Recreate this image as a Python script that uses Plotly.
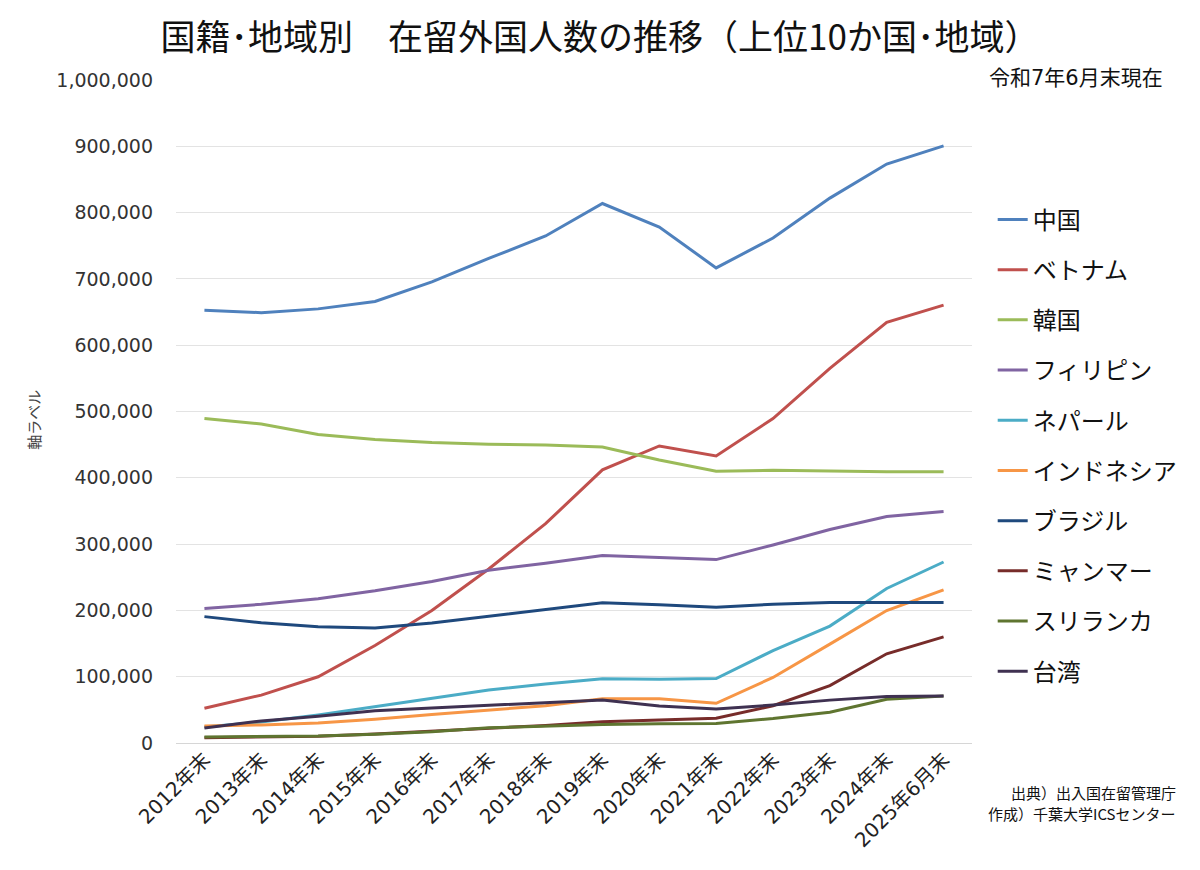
import plotly.graph_objects as go

categories = ["2012年末", "2013年末", "2014年末", "2015年末", "2016年末", "2017年末", "2018年末",
              "2019年末", "2020年末", "2021年末", "2022年末", "2023年末", "2024年末", "2025年6月末"]

china = [652595, 649078, 654777, 665847, 695522, 730890, 764720, 813675, 778112, 716606, 761563, 821838, 873286, 900738]
vietnam = [52367, 72256, 99865, 146956, 199990, 262405, 330835, 411968, 448053, 432934, 489312, 565026, 634361, 660483]
korea = [489431, 481249, 465477, 457772, 453096, 450663, 449634, 446364, 426908, 409855, 411312, 410156, 409238, 409000]
philippines = [202985, 209183, 217585, 229595, 243662, 260553, 271289, 282798, 279660, 276615, 298740, 322046, 341518, 349000]
nepal = [24071, 31537, 42346, 54775, 67470, 80038, 88951, 96824, 95982, 97109, 139393, 176336, 233043, 273000]
indonesia = [25534, 27214, 30210, 35910, 42850, 49982, 56346, 66860, 66832, 59820, 98865, 149101, 199824, 231000]
brazil = [190609, 181317, 175410, 173437, 180923, 191362, 201865, 211677, 208538, 204879, 209430, 211840, 211907, 212000]
myanmar = [8046, 8600, 10252, 13737, 17775, 22519, 26456, 32049, 35049, 37246, 56239, 86546, 134574, 160000]
srilanka = [9000, 9200, 10500, 13152, 17000, 23000, 26000, 28000, 29000, 29500, 37000, 46500, 66000, 71000]
taiwan = [22775, 33324, 40197, 48723, 52768, 56724, 60684, 64773, 55872, 51191, 57294, 64663, 70147, 71000]

series = [
    ("中国", china, "#4F81BD"),
    ("ベトナム", vietnam, "#C0504D"),
    ("韓国", korea, "#9BBB59"),
    ("フィリピン", philippines, "#8064A2"),
    ("ネパール", nepal, "#4BACC6"),
    ("インドネシア", indonesia, "#F79646"),
    ("ブラジル", brazil, "#1F497D"),
    ("ミャンマー", myanmar, "#772C2A"),
    ("スリランカ", srilanka, "#5F7530"),
    ("台湾", taiwan, "#3F3151"),
]

source_lines = ["出典）出入国在留管理庁", "作成）千葉大学ICSセンター"]

FONT = "Noto Sans CJK JP"
NUMFONT = "DejaVu Sans, Noto Sans CJK JP"

fig = go.Figure()
for name, vals, color in series:
    fig.add_trace(go.Scatter(
        x=categories, y=vals, name=name, mode="lines",
        line=dict(color=color, width=3),
        legendgroup=name,
        hoverinfo="skip",
    ))

annotations = [
    dict(text="軸ラベル", textangle=-90, xref="paper", yref="paper",
         x=-0.18, y=0.487, xanchor="center", yanchor="middle", showarrow=False,
         font=dict(family=FONT, size=15, color="#444444")),
    dict(text="令和7年6月末現在", xref="paper", yref="paper",
         x=1.2425, y=1.003, xanchor="right", yanchor="middle", showarrow=False,
         font=dict(family=NUMFONT, size=21, color="#111111")),
]
for i, line in enumerate(source_lines):
    annotations.append(dict(
        text=line, xref="paper", yref="paper",
        x=1.258, y=-0.0754 - i * 0.0302, xanchor="right", yanchor="middle",
        showarrow=False, borderpad=0,
        font=dict(family=FONT, size=15, color="#111111"),
    ))

fig.update_layout(
    width=1200, height=870,
    margin=dict(l=176, r=228, t=80, b=127),
    paper_bgcolor="white", plot_bgcolor="white",
    font=dict(family=FONT, color="#222222"),
    title=dict(
        text="国籍･地域別　在留外国人数の推移（上位10か国･地域）",
        x=0.5, xref="container", xanchor="center",
        y=1 - 38 / 870, yref="container", yanchor="middle",
        font=dict(family=FONT, size=35, color="#111111"),
    ),
    showlegend=True,
    legend=dict(
        x=1.026, y=0.823, xanchor="left", yanchor="top",
        font=dict(family=FONT, size=24, color="#111111"),
        tracegroupgap=16,
        bgcolor="rgba(0,0,0,0)",
    ),
    xaxis=dict(
        type="category",
        range=[-0.5, len(categories) - 0.5],
        tickangle=-45,
        tickfont=dict(family=NUMFONT, size=20, color="#222222"),
        showgrid=False, showline=False, zeroline=False,
        ticks="",
    ),
    yaxis=dict(
        range=[0, 1000000],
        dtick=100000,
        tickformat=",",
        tickfont=dict(family=NUMFONT, size=19, color="#333333"),
        showgrid=True, gridcolor="#e3e3e3", gridwidth=1,
        zeroline=True, zerolinecolor="#d6d6d6", zerolinewidth=1,
        showline=False,
        ticklabelstandoff=22,
    ),
    annotations=annotations,
)

fig.write_html("out.html")
